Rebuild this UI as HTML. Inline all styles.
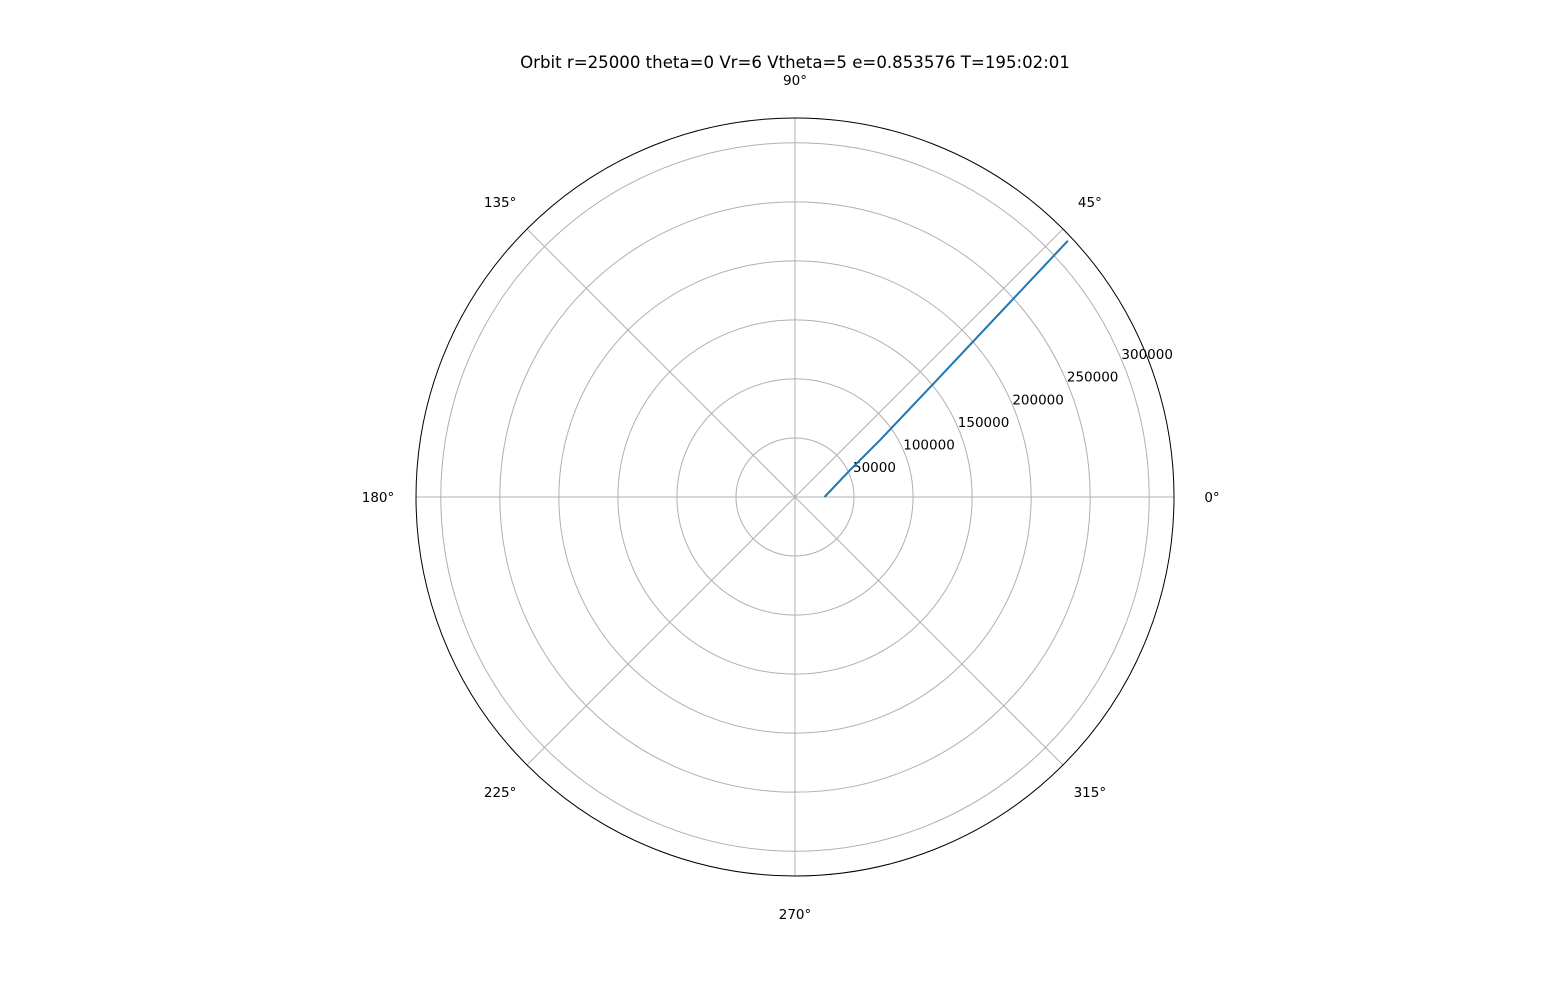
<!DOCTYPE html>
<html><head><meta charset="utf-8"><style>
body{margin:0;background:#fff;}
svg{display:block;font-family:"DejaVu Sans","Liberation Sans",sans-serif;}
</style></head><body>
<svg width="1552" height="985">
<text x="795" y="68" text-anchor="middle" font-size="16.6">Orbit r=25000 theta=0 Vr=6 Vtheta=5 e=0.853576 T=195:02:01</text>
<g id="grid"></g>
<g id="labels"></g>
<g id="series"></g>
<circle cx="795" cy="497" r="379" fill="none" stroke="#000" stroke-width="1"/>
</svg>
<script>
const rTicks=[50000,100000,150000,200000,250000,300000];
const thetaTicks=[0,45,90,135,180,225,270,315];
const orbitTheta=[0,26.1,33.8,39.5,43.2];
const orbitR=[25000,52000,86700,156000,317000];
const cx=795,cy=497,R=379,rMax=321000;
const NS='http://www.w3.org/2000/svg';
function rs(r){return r/rMax*R;}
function pt(r,t){const a=t*Math.PI/180;return [cx+rs(r)*Math.cos(a),cy-rs(r)*Math.sin(a)];}
const grid=document.getElementById('grid'),labels=document.getElementById('labels'),series=document.getElementById('series');
rTicks.forEach(v=>{
 const c=document.createElementNS(NS,'circle');
 c.setAttribute('cx',cx);c.setAttribute('cy',cy);c.setAttribute('r',rs(v));
 c.setAttribute('fill','none');c.setAttribute('stroke','#b0b0b0');c.setAttribute('stroke-width','1');
 
 
 grid.appendChild(c);
 const a=22.5*Math.PI/180,d=rs(v)+27;
 const t=document.createElementNS(NS,'text');
 t.setAttribute('x',cx+d*Math.cos(a));t.setAttribute('y',cy-d*Math.sin(a)+8);
 t.setAttribute('text-anchor','middle');t.setAttribute('font-size','13.5');
 t.textContent=v;
 
 
 labels.appendChild(t);
});
thetaTicks.forEach(th=>{
 const a=th*Math.PI/180;
 const l=document.createElementNS(NS,'line');
 l.setAttribute('x1',cx);l.setAttribute('y1',cy);
 l.setAttribute('x2',cx+R*Math.cos(a));l.setAttribute('y2',cy-R*Math.sin(a));
 l.setAttribute('stroke','#b0b0b0');l.setAttribute('stroke-width','1');
 
 
 grid.appendChild(l);
 const d=417;
 const t=document.createElementNS(NS,'text');
 t.setAttribute('x',cx+d*Math.cos(a));t.setAttribute('y',cy-d*Math.sin(a)+5);
 t.setAttribute('text-anchor','middle');t.setAttribute('font-size','13.5');
 t.textContent=th+'°';
 
 
 labels.appendChild(t);
});
const p=document.createElementNS(NS,'polyline');
p.setAttribute('points',orbitR.map((r,i)=>pt(r,orbitTheta[i]).join(',')).join(' '));
p.setAttribute('fill','none');p.setAttribute('stroke','#1f77b4');p.setAttribute('stroke-width','2');
p.setAttribute('stroke-linejoin','round');


series.appendChild(p);
</script>
</body></html>
